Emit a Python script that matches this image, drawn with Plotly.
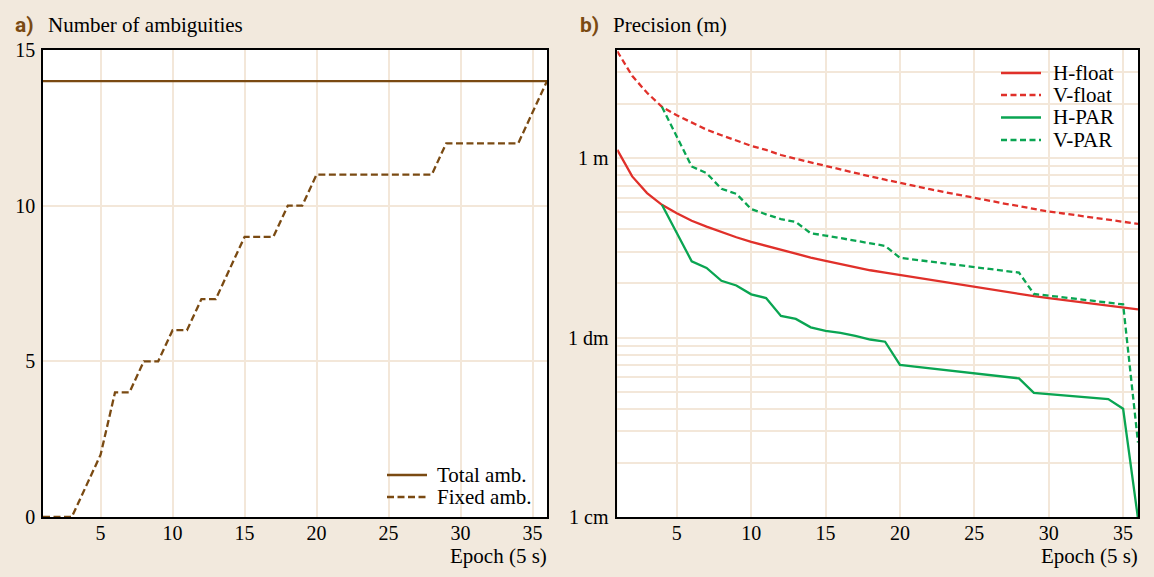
import plotly.graph_objects as go

# ---------------- data ----------------
epochs = list(range(1, 37))

total_amb = [14, 14, 14, 14, 14, 14, 14, 14, 14, 14, 14, 14, 14, 14, 14, 14, 14, 14,
             14, 14, 14, 14, 14, 14, 14, 14, 14, 14, 14, 14, 14, 14, 14, 14, 14, 14]
fixed_amb = [0, 0, 0, 1, 2, 4, 4, 5, 5, 6, 6, 7, 7, 8, 9, 9, 9, 10,
             10, 11, 11, 11, 11, 11, 11, 11, 11, 11, 12, 12, 12, 12, 12, 12, 13, 14]

h_float = [1.11, 0.79, 0.638, 0.549, 0.493, 0.447, 0.415, 0.386, 0.362, 0.341,
           0.324, 0.308, 0.292, 0.279, 0.267, 0.256, 0.246, 0.237, 0.230, 0.223,
           0.216, 0.210, 0.203, 0.197, 0.191, 0.186, 0.180, 0.175, 0.170, 0.166,
           0.162, 0.158, 0.154, 0.151, 0.1475, 0.1436]
v_float = [3.93, 2.87, 2.31, 1.93, 1.73, 1.57, 1.44, 1.34, 1.25, 1.17,
           1.11, 1.04, 0.99, 0.945, 0.90, 0.86, 0.824, 0.79, 0.757, 0.725,
           0.697, 0.671, 0.646, 0.622, 0.598, 0.578, 0.558, 0.540, 0.521, 0.503,
           0.491, 0.479, 0.466, 0.454, 0.443, 0.43]
h_par = [None, None, None, 0.549, 0.381, 0.266, 0.244, 0.207, 0.195, 0.174,
         0.166, 0.132, 0.127, 0.114, 0.109, 0.106, 0.102, 0.0975, 0.0948, 0.0703,
         0.0688, 0.0673, 0.0659, 0.0645, 0.0631, 0.0618, 0.0604, 0.0592, 0.0492, 0.0484,
         0.0476, 0.0469, 0.0461, 0.0454, 0.0401, 0.0098]
v_par = [None, None, None, 1.93, 1.31, 0.898, 0.824, 0.674, 0.632, 0.520,
         0.486, 0.457, 0.440, 0.381, 0.370, 0.358, 0.344, 0.332, 0.324, 0.278,
         0.272, 0.266, 0.259, 0.253, 0.247, 0.241, 0.236, 0.230, 0.175, 0.171,
         0.1675, 0.1637, 0.160, 0.1566, 0.153, 0.026]

x_ticks = [5, 10, 15, 20, 25, 30, 35]
amb_ticks = [0, 5, 10, 15]
prec_ticks = [0.01, 0.1, 1]
prec_labels = ["1 cm", "1 dm", "1 m"]
prec_minor = [0.02, 0.03, 0.04, 0.05, 0.06, 0.07, 0.08, 0.09,
              0.2, 0.3, 0.4, 0.5, 0.6, 0.7, 0.8, 0.9, 2, 3, 4]

# ---------------- style ----------------
BG = "#f2e9dd"
GRID = "#f3e7d9"
BROWN = "#7a4a12"
RED = "#e0302a"
GREEN = "#0aa552"
SERIF = "Liberation Serif, Times New Roman, serif"
DASH_A = "7px,3.5px"
DASH_B = "6px,3.5px"
LW = 2.3

series_a = [
    ("Total amb.", total_amb, BROWN, "solid"),
    ("Fixed amb.", fixed_amb, BROWN, DASH_A),
]
series_b = [
    ("H-float", h_float, RED, "solid"),
    ("V-float", v_float, RED, DASH_B),
    ("H-PAR", h_par, GREEN, "solid"),
    ("V-PAR", v_par, GREEN, DASH_B),
]

fig = go.Figure()
for name, vals, col, dash in series_a:
    fig.add_trace(go.Scatter(x=epochs, y=vals, mode="lines", name=name, showlegend=False,
                             line=dict(color=col, width=LW, dash=dash), xaxis="x", yaxis="y"))
for name, vals, col, dash in series_b:
    fig.add_trace(go.Scatter(x=epochs, y=vals, mode="lines", name=name, showlegend=False,
                             line=dict(color=col, width=LW, dash=dash), xaxis="x2", yaxis="y2"))

axis_common = dict(showline=True, linecolor="black", linewidth=1.6, mirror=True,
                   showgrid=True, gridcolor=GRID, gridwidth=1.6, zeroline=False,
                   ticks="", tickfont=dict(family=SERIF, size=20, color="black"))

W, H = 1154, 577
ML, MR, MT, MB = 43, 16, 50, 60
PW = W - ML - MR
PH = H - MT - MB


def px(xp):
    return (xp - ML) / PW


def py(yp):
    return (H - MB - yp) / PH


fig.update_layout(
    width=W, height=H, autosize=False,
    margin=dict(l=ML, r=MR, t=MT, b=MB),
    paper_bgcolor=BG, plot_bgcolor="white",
    font=dict(family=SERIF, size=20, color="black"),
    showlegend=False,
    xaxis=dict(domain=[0, px(547)], range=[1, 36], tickvals=x_ticks, anchor="y",
               ticklabelstandoff=-3, **axis_common),
    yaxis=dict(domain=[0, 1], range=[0, 15], tickvals=amb_ticks, anchor="x",
               ticklabelstandoff=2, **axis_common),
    xaxis2=dict(domain=[px(617.3), 1], range=[1, 36], tickvals=x_ticks, anchor="y2",
                ticklabelstandoff=-3, **axis_common),
    yaxis2=dict(domain=[0, 1], type="log", range=[-2, 0.602], tickvals=prec_ticks, ticktext=prec_labels,
                anchor="x2", ticklabelstandoff=3,
                minor=dict(tickvals=prec_minor, showgrid=True, gridcolor=GRID, gridwidth=1.6, ticks=""),
                **axis_common),
)

ann = []
shapes = []


def txt(text, x, y, anchor="left", font=None):
    ann.append(dict(text=text, x=px(x), y=py(y), xref="paper", yref="paper", xanchor=anchor,
                    yanchor="middle", showarrow=False,
                    font=font or dict(family=SERIF, size=21, color="black")))


TITLE_FONT = dict(family="Roboto, sans-serif", size=21, color=BROWN)
txt("<b>a)</b>", 13, 25, font=TITLE_FONT)
txt("Number of ambiguities", 46, 25)
txt("<b>b)</b>", 578, 25, font=TITLE_FONT)
txt("Precision (m)", 611, 25)
txt("Epoch (5 s)", 549, 556, anchor="right")
txt("Epoch (5 s)", 1140, 556, anchor="right")


def legend(items, x0, x1, xt, ys):
    for (name, _v, col, dash), yy in zip(items, ys):
        shapes.append(dict(type="line", xref="paper", yref="paper", x0=px(x0), x1=px(x1),
                           y0=py(yy), y1=py(yy), line=dict(color=col, width=LW, dash=dash)))
        txt(name, xt, yy, font=dict(family=SERIF, size=21, color="black"))


legend(series_a, 387, 427, 435, [475, 497])
legend(series_b, 1001, 1041, 1051, [73, 95, 117.5, 140])

fig.update_layout(annotations=ann, shapes=shapes)

fig.write_html("out.html", config={"displayModeBar": False},
               post_script="document.body.style.margin='0px';")
